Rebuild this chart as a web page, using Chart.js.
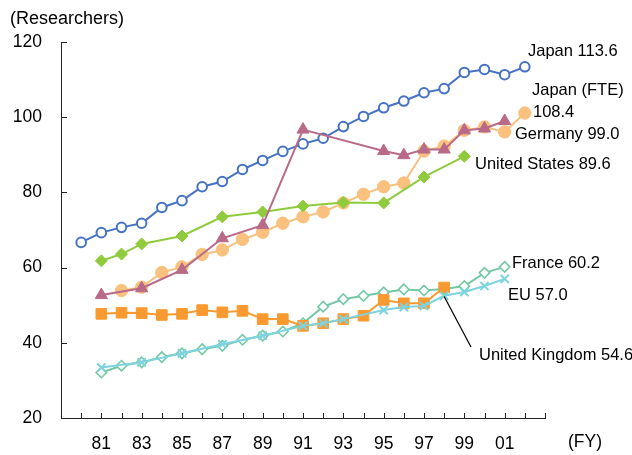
<!DOCTYPE html>
<html>
<head>
<meta charset="utf-8">
<script src="https://cdn.jsdelivr.net/npm/chart.js@4.4.1/dist/chart.umd.min.js"></script>
<style>
  html, body { margin: 0; padding: 0; background: #fff; }
  #wrap { width: 632px; height: 455px; }
</style>
</head>
<body>
<div id="wrap"><canvas id="researchChart" width="632" height="455"></canvas></div>
<script>
// fiscal years 1979..2003 (two-digit labels)
const years = ['79','80','81','82','83','84','85','86','87','88','89','90','91','92','93','94','95','96','97','98','99','00','01','02','03'];
const labeledYears = ['81','83','85','87','89','91','93','95','97','99','01'];
const yTicks = [20, 40, 60, 80, 100, 120];

// researchers (10,000 persons)
const japan       = [null, 66.7, 69.3, 70.7, 71.8, 76.0, 77.8, 81.5, 82.9, 86.1, 88.5, 90.9, 92.9, 94.4, 97.5, 100.2, 102.5, 104.3, 106.5, 107.6, 111.9, 112.7, 111.3, 113.4, null];
const japanFte    = [null, null, null, 53.9, 54.8, 58.7, 60.2, 63.5, 64.7, 67.5, 69.4, 71.8, 73.5, 74.8, 77.2, 79.5, 81.5, 82.5, 91.0, 92.3, 96.5, 97.4, 96.1, 101.1, null];
const germany     = [null, null, 52.7, null, 54.5, null, 59.4, null, 67.8, null, 71.3, null, 96.7, null, null, null, 91.0, 89.9, 91.4, 91.4, 96.5, 97.0, 99.0, null, null];
const unitedStates= [null, null, 61.8, 63.6, 66.3, null, 68.4, null, 73.5, null, 74.8, null, 76.4, null, 77.3, null, 77.2, null, 84.1, null, 89.6, null, null, null, null];
const france      = [null, null, 32.1, 33.9, 34.8, 36.2, 37.2, 38.3, 39.2, 40.8, 41.9, 43.0, 45.2, 49.6, 51.6, 52.5, 53.4, 54.2, 53.9, 54.3, 55.1, 58.6, 60.2, null, null];
const eu          = [null, null, 33.4, null, 34.8, null, 37.2, null, 39.6, null, 41.9, null, 44.5, 45.2, 46.3, null, 48.7, 49.5, 49.8, 52.5, 53.5, 55.1, 57.0, null, null];
const uk          = [null, null, 47.7, 48.0, 47.9, 47.4, 47.7, 48.7, 48.1, 48.5, 46.3, 46.3, 44.5, 45.2, 46.3, 47.2, 51.4, 50.5, 50.5, 54.7, null, null, null, null, null];

const FONT = '"Liberation Sans", Arial, sans-serif';

// end-of-line labels [text, x, baseline, size]
const seriesLabels = [
  ['(Researchers)', 10, 24, 18],
  ['Japan 113.6', 528, 56, 16.5],
  ['Japan (FTE)', 532, 95, 16.5],
  ['108.4', 533, 117, 16.5],
  ['Germany 99.0', 515, 139, 16.5],
  ['United States 89.6', 475, 169, 16.5],
  ['France 60.2', 512, 268, 16.5],
  ['EU 57.0', 508, 300, 16.5],
  ['United Kingdom 54.6', 479, 360, 16.5],
  ['(FY)', 568, 447, 17.5]
];

const innerTicks = {
  id: 'innerTicks',
  beforeDatasetsDraw(chart) {
    const { ctx, scales: { x, y } } = chart;
    ctx.save();
    ctx.strokeStyle = '#222';
    ctx.lineWidth = 1;
    ctx.beginPath();
    y.ticks.forEach((t, i) => {
      const py = Math.round(y.getPixelForTick(i)) + 0.5;
      ctx.moveTo(x.left, py);
      ctx.lineTo(x.left + 6, py);
    });
    x.ticks.forEach((t, i) => {
      const px = Math.round(x.getPixelForTick(i)) + 0.5;
      ctx.moveTo(px, y.bottom);
      ctx.lineTo(px, y.bottom - 5);
    });
    ctx.stroke();
    ctx.restore();
  },
  afterDraw(chart) {
    const { ctx, scales: { x, y } } = chart;
    ctx.save();
    ctx.fillStyle = '#000';
    ctx.textBaseline = 'alphabetic';
    ctx.textAlign = 'left';
    seriesLabels.forEach(([txt, lx, ly, size]) => {
      ctx.font = size + 'px ' + FONT;
      ctx.fillText(txt, lx, ly);
    });
    // leader line for UK
    ctx.strokeStyle = '#000';
    ctx.lineWidth = 1.2;
    ctx.beginPath();
    ctx.moveTo(x.getPixelForValue(years.indexOf('98')), y.getPixelForValue(52.3));
    ctx.lineTo(471, 347);
    ctx.stroke();
    ctx.restore();
  }
};

function series(label, data, color, style, radius, order, opts) {
  return Object.assign({
    label, data,
    borderColor: color,
    backgroundColor: color,
    pointBackgroundColor: color,
    pointBorderColor: color,
    pointStyle: style,
    pointRadius: radius,
    pointHoverRadius: radius,
    borderWidth: 2,
    pointBorderWidth: 1,
    spanGaps: true,
    tension: 0,
    order
  }, opts || {});
}

new Chart(document.getElementById('researchChart'), {
  type: 'line',
  data: {
    labels: years,
    datasets: [
      series('Japan', japan, '#4472C4', 'circle', 4.8, 7, { pointBackgroundColor: '#fff', pointBorderWidth: 2 }),
      series('Japan (FTE)', japanFte, '#FAC17E', 'circle', 6.2, 3),
      series('Germany', germany, '#B86A88', 'triangle', 7, 1),
      series('United States', unitedStates, '#8FCB3C', 'rectRot', 6, 2),
      series('France', france, '#74C8A3', 'rectRot', 5.2, 6, { pointBackgroundColor: '#fff', pointBorderWidth: 1.6 }),
      series('EU', eu, '#7DD3DF', 'crossRot', 5.8, 4, { pointBorderWidth: 2 }),
      series('United Kingdom', uk, '#F99A30', 'rect', 7.5, 5)
    ]
  },
  options: {
    responsive: false,
    animation: false,
    layout: { padding: { left: 0, right: 87, top: 42, bottom: 0 } },
    plugins: {
      legend: { display: false },
      tooltip: { enabled: false },
      title: { display: false }
    },
    scales: {
      x: {
        type: 'category',
        offset: false,
        grid: { display: false, drawTicks: false },
        border: { display: true, color: '#222', width: 1 },
        afterFit(scale) { scale.height = 455 - 418; },
        ticks: {
          autoSkip: false,
          maxRotation: 0,
          padding: 16,
          color: '#000',
          font: { family: FONT, size: 17.5 },
          callback(value, index) {
            const yr = years[index];
            return labeledYears.includes(yr) ? yr : '';
          }
        }
      },
      y: {
        min: yTicks[0],
        max: yTicks[yTicks.length - 1],
        grid: { display: false, drawTicks: false },
        border: { display: true, color: '#222', width: 1 },
        afterFit(scale) { scale.width = 61; },
        afterBuildTicks(scale) { scale.ticks = yTicks.map(v => ({ value: v })); },
        ticks: {
          padding: 19,
          color: '#000',
          font: { family: FONT, size: 17.5 }
        }
      }
    }
  },
  plugins: [innerTicks]
});
</script>
</body>
</html>
